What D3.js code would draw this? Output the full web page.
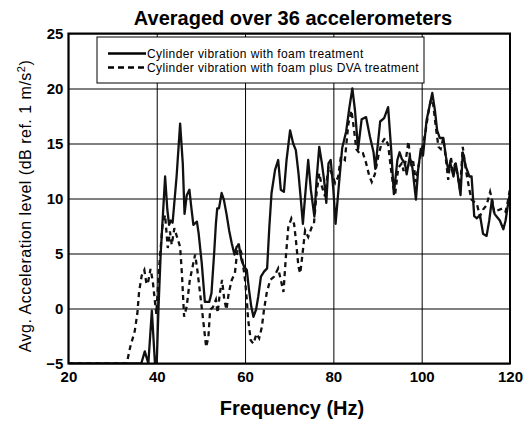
<!DOCTYPE html>
<html>
<head>
<meta charset="utf-8">
<script src="https://cdn.jsdelivr.net/npm/d3@7"></script>
<style>
  body { margin: 0; background: #fff; }
  text { font-family: "Liberation Sans", Arial, sans-serif; fill: #000; }
</style>
</head>
<body>
<div id="chart"></div>
<script>
// Data (Hz, dB)
const foamFreq = [20, 36.5, 37.3, 38.1, 38.9, 39.6, 40, 40.4, 40.9, 41.9, 42.4, 42.8, 43.2, 43.6, 44.5, 45.3,
  45.9, 46.3, 46.8, 47.4, 47.8, 48.3, 49.1, 49.5, 50.2, 50.9, 51.9, 52.4, 53, 53.4, 53.7, 54.1, 54.7, 55.2,
  55.8, 56.4, 57, 57.6, 58.1, 58.6, 59.2, 59.8, 60.4, 60.9, 61.4, 61.9, 62.5, 63, 63.6, 64.3, 65, 65.5, 66,
  66.8, 67.5, 68.1, 68.8, 69.4, 70.2, 70.9, 71.5, 72.1, 72.7, 73.1, 73.6, 74.3, 74.9, 75.7, 76.2, 76.8, 77.4,
  77.9, 78.4, 78.9, 79.4, 80, 80.5, 81.2, 82, 82.9, 83.6, 84.3, 84.9, 85.6, 86.4, 87.4, 88.3, 89.1, 89.5,
  90.6, 91.5, 92.4, 93.1, 93.7, 94.5, 95, 95.5, 96.2, 96.6, 97.3, 97.9, 98.7, 99.2, 99.8, 100.3, 101.1,
  102.4, 103, 103.5, 104.1, 104.9, 105.5, 106, 106.5, 107.2, 107.7, 108.1, 108.8, 109.3, 110, 110.8, 111.3,
  111.9, 112.5, 113.2, 113.9, 114.7, 115.3, 115.9, 116.5, 117.1, 117.7, 118.5, 119, 119.6, 120];
const foamLevel = [-5, -5, -3.9, -5, -0.2, -5, -5, 0, 5, 12, 9, 7.6, 8, 7.8, 12, 16.8,
  13.2, 8.6, 10.3, 10.8, 9.3, 7.6, 7.9, 6.8, 4.1, 0.6, 0.6, 1.4, 5, 7.7, 9.1, 9.1, 10.5, 9.9,
  8.6, 7.1, 5.9, 4.9, 5.6, 5.8, 4.4, 3.8, 3.5, 1.7, 0.2, -0.75, -0.1, 1.1, 2.9, 3.35, 3.65, 7.4, 10.5,
  12.6, 13.5, 10.8, 10.6, 13.5, 16.2, 15, 14.4, 12.3, 9.6, 7.7, 10.2, 13.5, 10.8, 8.35, 11.7, 14.7, 13.2,
  11.7, 9.6, 13.2, 13.5, 10.8, 7.7, 11, 14.6, 16.1, 18.2, 20, 18, 14.5, 17.2, 17.4, 15.6, 14.2, 12.7,
  17, 17.3, 18.3, 14.4, 10.4, 13.5, 14.2, 13.6, 13.2, 12.2, 13.8, 12.8, 9.9, 12.6, 14.5, 13.9, 17.1,
  19.6, 18, 16.2, 15.5, 15.5, 13.8, 12.6, 13.2, 12, 13.2, 12.3, 10.3, 14.2, 12.9, 12, 12,
  8.4, 8.2, 8.5, 6.8, 6.6, 8, 9.9, 8.6, 8.3, 8, 7.2, 8, 9.6, 10.5];

const dvaFreq = [20, 33.2, 34, 35, 35.6, 36, 36.6, 37.2, 37.7, 38.1, 38.6, 39.1, 39.5, 39.9, 40.6, 41.3, 41.9,
  42.5, 43, 43.4, 44, 44.6, 45.3, 45.7, 46.2, 46.8, 47.5, 48.7, 49.2, 49.9, 50.5, 51.2, 51.7, 52.1, 52.7,
  53.4, 53.8, 54.3, 54.8, 55.3, 55.8, 56.3, 57, 57.7, 58.1, 58.5, 59.2, 60, 60.4, 60.7, 61.3, 61.9, 62.6,
  63.2, 63.8, 64.3, 64.9, 65.7, 66.6, 67.5, 68.1, 68.7, 69.3, 69.8, 70.5, 71.1, 71.5, 72.1, 72.5, 73, 73.6,
  74.3, 75.1, 75.6, 76.2, 76.8, 77.4, 78.1, 78.9, 79.6, 80.4, 81.1, 81.7, 82.6, 83.4, 84.1, 84.6, 85.2,
  86.1, 86.7, 87.3, 88.1, 88.7, 89.4, 90.2, 90.9, 91.7, 92.4, 93.1, 93.6, 94, 94.7, 95.5, 95.9, 96.4, 97,
  97.5, 98, 98.7, 99.2, 100, 100.8, 101.5, 102.1, 102.6, 103.2, 103.8, 104.3, 104.9, 105.5, 106, 106.6,
  107.1, 107.6, 108.2, 108.7, 109.3, 110, 110.8, 111.3, 111.9, 112.5, 113.2, 113.9, 114.7, 115.5, 116,
  116.4, 117.1, 117.7, 118.3, 119, 119.6, 120];
const dvaLevel = [-5, -5, -3.5, -2.1, -0.5, 1.5, 3, 3.5, 2.2, 2.5, 3.6, 2.5, 1, -0.5, 4, 7.5, 8.5,
  5.5, 7, 5.8, 7.3, 6.5, 5.6, 3.2, -0.75, 0.2, 2.6, 4.9, 3.5, 1.1, -1, -3.5, -2.6, -0.1, 0.1,
  0.8, -0.4, 1.4, 2.6, 0.8, -0.1, 1.4, 2.6, 3.2, 4.7, 5.9, 5, 2.6, 0.8, -1, -2.9, -3.2, -2.3,
  -2.7, -1.7, -0.1, 1.4, 2.6, 2.9, 3.65, 2.6, 1.5, 5, 7.4, 8.2, 7.7, 6.3, 3.8, 3.2, 4.9, 7.1,
  6.5, 7.4, 7.7, 10.5, 12.3, 11.1, 10.2, 12.9, 12.3, 11.4, 12, 13.8, 13.5, 16.8, 18, 16.5, 14.5,
  14, 14.1, 13.4, 12.1, 11.5, 12.2, 13.9, 15, 15.5, 14.9, 12.5, 11, 10.4, 12.8, 13.2, 12.5, 13.5, 15.2,
  13.2, 13.6, 11.5, 12.8, 14.4, 15.9, 17.8, 19, 18.6, 16.5, 14.7, 14.5, 15.5, 13.5, 11.7, 13.8,
  12.5, 13.2, 12, 10.8, 14.7, 12.6, 10.8, 9.9, 9.7, 9.5, 8.4, 9, 9.4, 10.6, 9.8,
  8.7, 8.9, 9, 9.1, 8.8, 9.9, 10.9];

const xTicks = [20, 40, 60, 80, 100, 120];
const yTicks = [-5, 0, 5, 10, 15, 20, 25];
const legendLabels = ["Cylinder vibration with foam treatment", "Cylinder vibration with foam plus DVA treatment"];

// Dimensions and margins
const margin = {top: 33.5, right: 18, bottom: 57.5, left: 68.4},
    width = 528 - margin.left - margin.right,
    height = 421 - margin.top - margin.bottom;

const svg = d3.select("#chart")
  .append("svg")
    .attr("width", 528)
    .attr("height", 421)
  .append("g")
    .attr("transform", "translate(" + margin.left + "," + margin.top + ")");

const x = d3.scaleLinear().domain([20, 120]).range([0, width]);
const y = d3.scaleLinear().domain([-5, 25]).range([height, 0]);

// grid
svg.append("g")
  .call(d3.axisBottom(x).tickValues(xTicks).tickSize(height).tickFormat(""))
  .call(g => g.select(".domain").remove())
  .selectAll("line").attr("stroke", "#000").attr("stroke-width", 1);
svg.append("g")
  .call(d3.axisLeft(y).tickValues(yTicks).tickSize(-width).tickFormat(""))
  .call(g => g.select(".domain").remove())
  .selectAll("line").attr("stroke", "#000").attr("stroke-width", 1);

// clip the lines to the plot
svg.append("clipPath").attr("id", "clip")
  .append("rect").attr("width", width).attr("height", height);

const line = d3.line().x(d => x(d[0])).y(d => y(d[1]));

svg.append("path")
  .datum(d3.zip(foamFreq, foamLevel))
  .attr("clip-path", "url(#clip)")
  .attr("fill", "none")
  .attr("stroke", "#111")
  .attr("stroke-width", 2.3)
  .attr("stroke-linejoin", "round")
  .attr("d", line);

svg.append("path")
  .datum(d3.zip(dvaFreq, dvaLevel))
  .attr("clip-path", "url(#clip)")
  .attr("fill", "none")
  .attr("stroke", "#111")
  .attr("stroke-width", 2.3)
  .attr("stroke-dasharray", "5,4")
  .attr("d", line);

// frame
svg.append("rect")
  .attr("width", width).attr("height", height)
  .attr("fill", "none").attr("stroke", "#000").attr("stroke-width", 2);

// tick labels
svg.append("g")
  .attr("transform", "translate(0," + height + ")")
  .call(d3.axisBottom(x).tickValues(xTicks).tickSize(0).tickPadding(8))
  .call(g => g.select(".domain").remove())
  .selectAll("text")
    .style("font-size", "15px").style("font-weight", "bold")
    .style("font-family", "Liberation Sans, Arial, sans-serif");

svg.append("g")
  .call(d3.axisLeft(y).tickValues(yTicks).tickSize(0).tickPadding(5))
  .call(g => g.select(".domain").remove())
  .selectAll("text")
    .style("font-size", "15px").style("font-weight", "bold")
    .style("font-family", "Liberation Sans, Arial, sans-serif");

// title
svg.append("text")
  .attr("x", 293 - margin.left)
  .attr("y", 25 - margin.top)
  .style("text-anchor", "middle")
  .style("font-size", "20px")
  .style("font-weight", "bold")
  .text("Averaged over 36 accelerometers");

// axis labels
svg.append("text")
  .attr("x", 292 - margin.left)
  .attr("y", 415 - margin.top)
  .style("text-anchor", "middle")
  .style("font-size", "20px")
  .style("font-weight", "bold")
  .text("Frequency (Hz)");

const yLab = svg.append("text")
  .attr("transform", `translate(${31 - margin.left}, ${206 - margin.top}) rotate(-90)`)
  .style("text-anchor", "middle")
  .style("font-size", "16px")
  .style("letter-spacing", "0.5px");
yLab.append("tspan").text("Avg. Acceleration level (dB ref. 1 m/s");
yLab.append("tspan").attr("dy", "-6").style("font-size", "11px").text("2");
yLab.append("tspan").attr("dy", "6").text(")");

// legend
const lg = svg.append("g").attr("transform", `translate(${97 - margin.left}, ${37 - margin.top})`);
lg.append("rect")
  .attr("width", 327).attr("height", 46)
  .attr("fill", "#fff").attr("stroke", "#000").attr("stroke-width", 1);
legendLabels.forEach(function(label, i) {
  const ly = 16.5 + i * 14;
  lg.append("line")
    .attr("x1", 11).attr("x2", 49).attr("y1", ly).attr("y2", ly)
    .attr("stroke", "#000").attr("stroke-width", 2.3)
    .attr("stroke-dasharray", i === 1 ? "6,4" : null);
  lg.append("text")
    .attr("x", 50).attr("y", ly).attr("dy", "0.35em")
    .style("font-size", "12px")
    .style("letter-spacing", "0.4px")
    .text(label);
});
</script>
</body>
</html>
